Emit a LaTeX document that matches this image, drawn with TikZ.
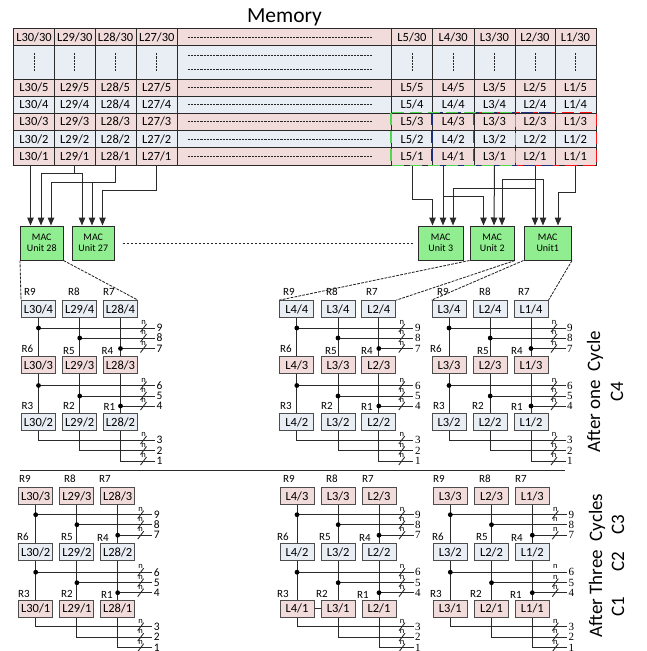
\documentclass[tikz,border=0pt]{standalone}
\usepackage{fontspec}
\setmainfont{Carlito}
\newfontfamily\serifnum{Liberation Serif}
\usetikzlibrary{arrows.meta,calc}
\definecolor{pinkc}{HTML}{F2DCDB}
\definecolor{bluec}{HTML}{E9EDF4}
\definecolor{macg}{HTML}{90EE90}
\definecolor{linec}{HTML}{2A2A2A}
\definecolor{gdash}{HTML}{4FD84F}
\definecolor{ndash}{HTML}{1F2F80}
\definecolor{rdash}{HTML}{FF1010}
\tikzset{
  cellbox/.style={draw=linec,line width=1pt,inner sep=0pt,font=\fontsize{12.5}{14}\selectfont},
  regbox/.style={draw=black!70,line width=1pt,inner sep=0pt,minimum width=34pt,minimum height=17.3pt,font=\fontsize{12.5}{14}\selectfont},
  macbox/.style={draw=linec,line width=1pt,fill=macg,inner sep=0pt,align=center,minimum height=34pt,font=\fontsize{10}{11.5}\selectfont},
  rowdash/.style={line width=.85pt,dash pattern=on 2.2pt off 1pt,black!85},
  viadash/.style={line width=.85pt,dash pattern=on 2.8pt off 1.2pt,black!85},
  arr/.style={line width=1pt,linec,-{Triangle[length=8pt,width=6.5pt]}},
  plain/.style={line width=1pt,linec},
  rlab/.style={inner sep=0pt,font=\fontsize{11}{12}\selectfont},
  numlab/.style={anchor=west,inner xsep=1.5pt,inner ysep=0pt,font=\numfont},
  nlab/.style={inner sep=0pt,font=\fontsize{8.5}{9}\selectfont},
  dotj/.style={circle,fill=black,inner sep=0pt,minimum size=4.8pt},
  sidetxt/.style={inner sep=0pt,rotate=90,font=\fontsize{19}{22}\selectfont},
  selbox/.style={line width=1.7pt,dash pattern=on 12pt off 6pt},
}
\newcommand{\numfont}{\fontsize{11.5}{12}\selectfont}
% #1 prefix, #2 x shift, #3 y shift, #4-#6 line names, #7 top row number, #8 #9 buses without a slash
\newcommand{\memblock}[9]{%
 \begin{scope}[shift={(#2,#3)}]
  \foreach \rn/\ry/\rt in {0/309.3/1,1/365.3/2,2/422.2/3}{%
    \pgfmathtruncatemacro\lv{#7-\rn}%
    \ifodd\lv\def\fc{pinkc}\else\def\fc{bluec}\fi
    \node[regbox,fill=\fc] (#1-a\rt) at (38.5,\ry) {#4/\lv};
    \node[regbox,fill=\fc] (#1-b\rt) at (79.7,\ry) {#5/\lv};
    \node[regbox,fill=\fc] (#1-c\rt) at (120.5,\ry) {#6/\lv};
  }
  \foreach \bn/\by in {9/328,8/338,7/348.5,6/385.5,5/396,4/406,3/440,2/450.5,1/461}{%
    \node[numlab] (#1-n\bn) at (155,\by) {\bn};
  }
  \foreach \col in {a,b,c}{%
    \draw[plain] (#1-\col1) -- (#1-\col2);
    \draw[plain] (#1-\col2) -- (#1-\col3);
  }
  \foreach \bn/\col in {9/a,8/b,7/c,6/a,5/b,4/c}{%
    \draw[plain] (#1-\col1 |- #1-n\bn) -- (#1-n\bn.west);
    \node[dotj] (#1-j\bn) at (#1-\col1 |- #1-n\bn) {};
  }
  \foreach \bn/\col in {3/a,2/b,1/c}{%
    \draw[plain] (#1-\col3.south) |- (#1-n\bn.west);
  }
  \foreach \bn in {1,...,9}{%
    \node[nlab] (#1-w\bn) at ([xshift=-11.5pt,yshift=5.5pt]#1-n\bn.west) {n};
    \ifnum\bn=#8 \else\ifnum\bn=#9 \else
      \draw[plain,line width=.9pt] ([xshift=-14.5pt,yshift=-4pt]#1-n\bn.west) -- ([xshift=-8.5pt,yshift=4pt]#1-n\bn.west);
    \fi\fi
  }
 \end{scope}}
\begin{document}
\begin{tikzpicture}[x=1pt,y=-1pt]
\useasboundingbox (0,0) rectangle (646,651);
\node[inner sep=0pt,font=\fontsize{21.5}{24}\selectfont] (title) at (284.5,17) {Memory};
% table
\foreach \nm/\xa/\xb in {L30/13.5/54.5,L29/54.5/95,L28/95/136,L27/136/177.5,L5/391.5/432.5,L4/432.5/474,L3/474/515,L2/515/555,L1/555/596}{%
  \foreach \rw/\ya/\yb/\fc in {30/28.5/45.5/pinkc,5/79/96/pinkc,4/96/113/bluec,3/113/130.5/pinkc,2/130.5/147.5/bluec,1/147.5/165/pinkc}{%
    \node[cellbox,fill=\fc,minimum width={(\xb-\xa)*1pt},minimum height={(\yb-\ya)*1pt}] (\nm-\rw) at ({(\xa+\xb)/2},{(\ya+\yb)/2}) {\nm/\rw};
  }
  \node[cellbox,fill=bluec,minimum width={(\xb-\xa)*1pt},minimum height=33.5pt] (\nm-d) at ({(\xa+\xb)/2},62.25) {};
  \draw[rowdash] ([yshift=9pt]\nm-d.center) -- ([yshift=-9pt]\nm-d.center);
}
\foreach \rw/\ya/\yb/\fc in {30/28.5/45.5/pinkc,d/45.5/79/bluec,5/79/96/pinkc,4/96/113/bluec,3/113/130.5/pinkc,2/130.5/147.5/bluec,1/147.5/165/pinkc}{%
  \node[cellbox,fill=\fc,minimum width=214pt,minimum height={(\yb-\ya)*1pt}] (Mid-\rw) at (284.5,{(\ya+\yb)/2}) {};
}
\foreach \rw in {30,5,4,3,2,1}{%
  \draw[rowdash] ([xshift=-97pt]Mid-\rw.center) -- ([xshift=87pt]Mid-\rw.center);
}
\draw[rowdash] ([xshift=-97pt,yshift=6.75pt]Mid-d.center) -- ([xshift=87pt,yshift=6.75pt]Mid-d.center);
\draw[rowdash] ([xshift=-97pt,yshift=-6.75pt]Mid-d.center) -- ([xshift=87pt,yshift=-6.75pt]Mid-d.center);
% selection outlines
\draw[selbox,rdash] (L3-3.north west) rectangle (L1-1.south east);
\draw[selbox,ndash] (L4-3.north west) rectangle (L2-1.south east);
\draw[selbox,gdash] (L5-3.north west) rectangle (L3-1.south east);
% MAC units
\node[macbox,minimum width=42.5pt] (M28) at (41.75,243) {MAC\\Unit 28};
\node[macbox,minimum width=42.5pt] (M27) at (93.25,243) {MAC\\Unit 27};
\node[macbox,minimum width=44.5pt] (M3) at (440.75,243) {MAC\\Unit 3};
\node[macbox,minimum width=44.5pt] (M2) at (492.25,243) {MAC\\Unit 2};
\node[macbox,minimum width=47.5pt] (M1) at (547.75,243) {MAC\\Unit1};
\draw[viadash] ([xshift=7.5pt]M27.east) -- ([xshift=-5.5pt]M3.west);
\foreach \nm/\dx/\mac in {p/-11.25/M28,q/-.75/M28,r/9.25/M28,s/-11.25/M27,t/-1.25/M27,u/9.25/M27,v/-8.25/M3,w/2.25/M3,x/12.25/M3,y/-8.75/M2,z/1.75/M2,aa/9.75/M2,ab/-12.75/M1,ac/-4.75/M1,ad/10.25/M1}{%
  \coordinate (\nm) at ([xshift=\dx pt]\mac.north);
}
% left memory to MAC
\draw[arr] ([xshift=-3.5pt]L30-1.south) -- (p);
\draw[arr] (L29-1.south) -- ++(0,8) -| (q);
\draw[arr] (L29-1.south) -- ++(0,8) -| (s);
\draw[arr] (L28-1.south) -- ++(0,17) -| (r);
\draw[arr] (L28-1.south) -- ++(0,17) -| (t);
\draw[arr] (L27-1.south) -- ++(0,25) -| (u);
% right memory to MAC
\draw[arr] (L5-1.south) -- ++(0,34) -| (v);
\draw[arr] ([xshift=-10.25pt]L4-1.south) -- (w);
\draw[arr] ([xshift=-10.25pt,yshift=-30.5pt]L4-1.south) -| (y);
\draw[arr] (L3-1.south) -- (z);
\draw[arr] (L2-1.south) -- (ab);
\draw[arr] ([yshift=-13.5pt]L2-1.south) -| (aa);
\draw[arr] ([yshift=-13.5pt]L2-1.south) -| (ac);
\draw[arr] ([yshift=-22.5pt]L2-1.south) -| (x);
\draw[arr] (L1-1.south) -- ++(0,27) -| (ad);
% register blocks
\memblock{A}{0}{0}{L30}{L29}{L28}{4}{0}{0}
\memblock{D}{-2.8}{186.7}{L30}{L29}{L28}{3}{0}{0}
\renewcommand{\numfont}{\serifnum\fontsize{11}{12}\selectfont}
\memblock{B}{258.3}{0}{L4}{L3}{L2}{4}{0}{0}
\memblock{C}{410.5}{0}{L3}{L2}{L1}{4}{0}{0}
\memblock{E}{258.5}{186.7}{L4}{L3}{L2}{3}{0}{0}
\memblock{F}{411.8}{186.7}{L3}{L2}{L1}{3}{8}{6}
\draw[plain] (E-a3) -- (E-b3);
% register labels
\foreach \t/\x/\y in {R9/30/292,R8/74/292,R7/109/292,R6/27.5/349,R5/69/351,R4/107.5/351,R3/27.5/406,R2/69/406,R1/109.5/407}{\node[rlab] (A\t) at (\x,\y) {\t};}
\foreach \t/\x/\y in {R9/289/292,R8/332/292,R7/372/292,R6/286/349,R5/331/351,R4/367/351,R3/286/406,R2/327/406,R1/367/407}{\node[rlab] (B\t) at (\x,\y) {\t};}
\foreach \t/\x/\y in {R9/443/292,R8/485/292,R7/524/292,R6/436/349,R5/483/351,R4/517/351,R3/439/406,R2/478/406,R1/517/407}{\node[rlab] (C\t) at (\x,\y) {\t};}
\foreach \t/\x/\y in {R9/25/479,R8/70/479,R7/105/479,R6/23/537,R5/67/537,R4/103/538,R3/24/594,R2/67/594,R1/107/595}{\node[rlab] (D\t) at (\x,\y) {\t};}
\foreach \t/\x/\y in {R9/289/479,R8/332/479,R7/368/479,R6/283/537,R5/325/537,R4/365/538,R3/283/594,R2/322/594,R1/363/595}{\node[rlab] (E\t) at (\x,\y) {\t};}
\foreach \t/\x/\y in {R9/439/479,R8/485/479,R7/521/479,R6/438/537,R5/482/537,R4/517/538,R3/436/594,R2/476/594,R1/516/595}{\node[rlab] (F\t) at (\x,\y) {\t};}
% dashed links from MAC units to blocks
\draw[viadash] (M28.south west) -- (A-a1.north west);
\draw[viadash] (M28.south east) -- (A-c1.north east);
\draw[viadash] (M2.south west) -- (B-a1.north west);
\draw[viadash] (M2.south east) -- (B-c1.north east);
\draw[viadash] (M1.south west) -- (C-a1.north west);
\draw[viadash] (M1.south east) -- (C-c1.north east);
% separator
\coordinate (sepL) at (20,470.5);
\coordinate (sepR) at (565,470.5);
\draw[plain] (sepL) -- (sepR);
% side texts
\node[sidetxt] (cyc1) at (595,391.5) {After one~~Cycle};
\node[sidetxt] (c4) at (617,392) {C4};
\node[sidetxt] (cyc3) at (597,565.5) {After Three~~Cycles};
\node[sidetxt] (c3) at (618,525) {C3};
\node[sidetxt] (c2) at (618,562) {C2};
\node[sidetxt] (c1) at (618,607) {C1};
\end{tikzpicture}
\end{document}
